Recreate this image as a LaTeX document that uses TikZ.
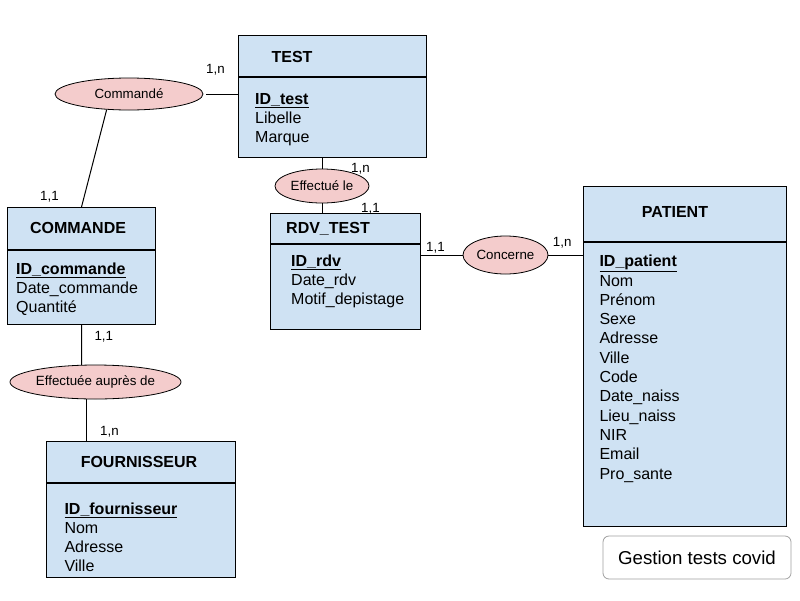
\documentclass[tikz,border=0pt]{standalone}
\usepackage{fontspec}
\setmainfont{Liberation Sans}
\usetikzlibrary{shapes.geometric,positioning}

\definecolor{entblue}{HTML}{CFE2F3}
\definecolor{relred}{HTML}{F4CCCC}
\definecolor{notegray}{HTML}{A0A0A0}

\tikzset{
  enthead/.style={draw, fill=entblue, line width=1pt, inner sep=0pt, anchor=north west},
  entbody/.style={draw, fill=entblue, line width=1pt, inner sep=0pt},
  enttitle/.style={font=\fontsize{16}{19.3}\selectfont\bfseries, anchor=base, inner sep=0pt},
  % base of a multi-line node = baseline of its last line
  attrs/.style={font=\fontsize{16}{19.3}\selectfont, align=left, anchor=base west, inner sep=0pt},
  relation/.style={ellipse, draw, fill=relred, line width=0.8pt, inner sep=0pt, font=\fontsize{13.33}{16}\selectfont},
  card/.style={font=\fontsize{13.33}{16}\selectfont, anchor=base west, inner sep=0pt},
  link/.style={line width=1pt}
}

\newcommand{\pkey}[1]{\textbf{\underline{#1}}}

\begin{document}
\begin{tikzpicture}[x=1pt,y=-1pt]
\path[use as bounding box, fill=white] (0,0) rectangle (800,600);

% Entities
\node[enthead, minimum width=188pt, minimum height=41pt] (test) at (238,35) {};
\node[entbody, minimum width=188pt, minimum height=80pt, below=0pt of test] (testB) {};
\node[enttitle] (testT) at (292,62) {TEST};
\node[attrs] (testA) at (255,142.6) {\pkey{ID\_test}\\Libelle\\Marque};

\node[enthead, minimum width=148pt, minimum height=42pt] (commande) at (7,207) {};
\node[entbody, minimum width=148pt, minimum height=74pt, below=0pt of commande] (commandeB) {};
\node[enttitle] (commandeT) at (78,233.3) {COMMANDE};
\node[attrs] (commandeA) at (16,312.9) {\pkey{ID\_commande}\\Date\_commande\\Quantité};

\node[enthead, minimum width=150pt, minimum height=30pt] (rdv) at (270,213) {};
\node[entbody, minimum width=150pt, minimum height=85pt, below=0pt of rdv] (rdvB) {};
\node[enttitle] (rdvT) at (328,233.3) {RDV\_TEST};
\node[attrs] (rdvA) at (291,304.6) {\pkey{ID\_rdv}\\Date\_rdv\\Motif\_depistage};

\node[enthead, minimum width=189pt, minimum height=41pt] (fourn) at (46,441) {};
\node[entbody, minimum width=189pt, minimum height=94pt, below=0pt of fourn] (fournB) {};
\node[enttitle] (fournT) at (139,467.7) {FOURNISSEUR};
\node[attrs] (fournA) at (64.3,571.9) {\pkey{ID\_fournisseur}\\Nom\\Adresse\\Ville};

\node[enthead, minimum width=203pt, minimum height=55pt] (patient) at (583,186) {};
\node[entbody, minimum width=203pt, minimum height=284pt, below=0pt of patient] (patientB) {};
\node[enttitle] (patientT) at (675,217.3) {PATIENT};
\node[attrs] (patientA) at (599.3,479) {\pkey{ID\_patient}\\Nom\\Prénom\\Sexe\\Adresse\\Ville\\Code\\Date\_naiss\\Lieu\_naiss\\NIR\\Email\\Pro\_sante};

% Relations
\node[relation, minimum width=148pt, minimum height=32pt] (cmde) at (129,94) {Commandé};
\node[relation, minimum width=94pt, minimum height=34pt] (effle) at (322,186) {Effectué le};
\node[relation, minimum width=85pt, minimum height=38pt] (conc) at (505.5,255) {Concerne};
\node[relation, minimum width=171pt, minimum height=34pt] (aupres) at (95.5,382) {Effectuée auprès de};

% Links
\draw[link, shorten <=3pt] (cmde.east) -- (cmde.east -| test.west);
\draw[link] (cmde.215) -- (commande.north);
\draw[link] (effle.north) -- (effle.north |- testB.south);
\draw[link] (effle.south) -- (effle.south |- rdv.north);
\draw[link] (conc.west) -- (conc.west -| rdvB.east);
\draw[link] (conc.east) -- (conc.east -| patientB.west);
\draw[link] (commandeB.south) -- (aupres.129);
\draw[link] (aupres.243) -- (aupres.243 |- fourn.north);

% Cardinalities
\node[card] (c1) at (206,73.3) {1,n};
\node[card] (c2) at (40,200) {1,1};
\node[card] (c3) at (351,172.7) {1,n};
\node[card] (c4) at (361,212.7) {1,1};
\node[card] (c5) at (426,251.7) {1,1};
\node[card] (c6) at (552.7,246.7) {1,n};
\node[card] (c7) at (94.3,340) {1,1};
\node[card] (c8) at (100,435) {1,n};

% Title
\node[draw=notegray, rounded corners=6pt, line width=0.8pt, minimum width=188pt, minimum height=43pt,
  font=\fontsize{18.67}{22}\selectfont] (note) at (697,557.5) {Gestion tests covid};

\end{tikzpicture}
\end{document}
